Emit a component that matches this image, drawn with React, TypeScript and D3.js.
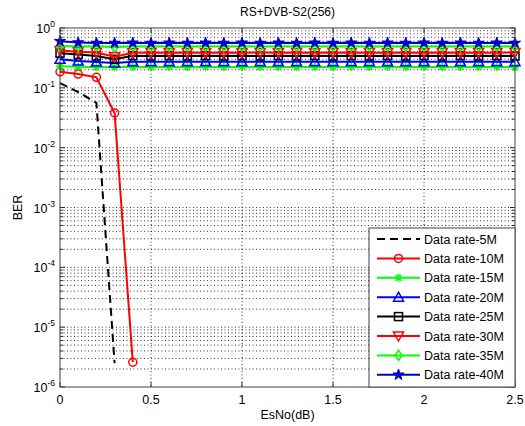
import * as d3 from "d3";

const W = 525;
const H = 426;
const M = { left: 60, right: 515, top: 28, bottom: 387 };

// EsNo sample points (dB)
const esno = [0, 0.1, 0.2, 0.3, 0.4, 0.5, 0.6, 0.7, 0.8, 0.9, 1.0, 1.1, 1.2, 1.3, 1.4, 1.5, 1.6, 1.7, 1.8, 1.9, 2.0, 2.1, 2.2, 2.3, 2.4, 2.5];

const ber5 = [0.12, 0.085, 0.056, 2.5e-6];
const ber10 = [0.185, 0.17, 0.15, 0.038, 2.6e-6];
const ber15 = [0.23, 0.225, 0.22, 0.222, 0.223, 0.222, 0.223, 0.222, 0.223, 0.222, 0.223, 0.222, 0.223, 0.222, 0.223, 0.222, 0.223, 0.222, 0.223, 0.222, 0.223, 0.222, 0.223, 0.222, 0.223, 0.222];
const ber20 = [0.3, 0.28, 0.27, 0.26, 0.272, 0.273, 0.272, 0.273, 0.272, 0.273, 0.272, 0.273, 0.272, 0.273, 0.272, 0.273, 0.272, 0.273, 0.272, 0.273, 0.272, 0.273, 0.272, 0.273, 0.272, 0.273];
const ber25 = [0.38, 0.36, 0.34, 0.3, 0.345, 0.34, 0.345, 0.34, 0.345, 0.34, 0.345, 0.34, 0.345, 0.34, 0.345, 0.34, 0.345, 0.34, 0.345, 0.34, 0.345, 0.34, 0.345, 0.34, 0.345, 0.34];
const ber30 = [0.42, 0.4, 0.39, 0.33, 0.385, 0.39, 0.385, 0.39, 0.385, 0.39, 0.385, 0.39, 0.385, 0.39, 0.385, 0.39, 0.385, 0.39, 0.385, 0.39, 0.385, 0.39, 0.385, 0.39, 0.385, 0.39];
const ber35 = [0.5, 0.49, 0.49, 0.48, 0.49, 0.49, 0.49, 0.49, 0.49, 0.49, 0.49, 0.49, 0.49, 0.49, 0.49, 0.49, 0.49, 0.49, 0.49, 0.49, 0.49, 0.49, 0.49, 0.49, 0.49, 0.49];
const ber40 = [0.6, 0.57, 0.56, 0.56, 0.565, 0.56, 0.565, 0.56, 0.565, 0.56, 0.565, 0.56, 0.565, 0.56, 0.565, 0.56, 0.565, 0.56, 0.565, 0.56, 0.565, 0.56, 0.565, 0.56, 0.565, 0.56];

const xTicks = [0, 0.5, 1, 1.5, 2, 2.5];
const xTickLabels = ["0", "0.5", "1", "1.5", "2", "2.5"];
const yExponents = [0, -1, -2, -3, -4, -5, -6];

type Marker = "none" | "o" | "*" | "^" | "s" | "v" | "d" | "p";

const series: { name: string; ys: number[]; color: string; marker: Marker; dash?: string }[] = [
  { name: "Data rate-5M", ys: ber5, color: "#000000", marker: "none", dash: "8,5" },
  { name: "Data rate-10M", ys: ber10, color: "#ff0000", marker: "o" },
  { name: "Data rate-15M", ys: ber15, color: "#00ff00", marker: "*" },
  { name: "Data rate-20M", ys: ber20, color: "#0000ff", marker: "^" },
  { name: "Data rate-25M", ys: ber25, color: "#000000", marker: "s" },
  { name: "Data rate-30M", ys: ber30, color: "#ff0000", marker: "v" },
  { name: "Data rate-35M", ys: ber35, color: "#00ff00", marker: "d" },
  { name: "Data rate-40M", ys: ber40, color: "#0000cc", marker: "p" },
];

const x = d3.scaleLinear().domain([0, 2.5]).range([M.left, M.right]);
const y = d3.scaleLog().domain([1e-6, 1]).range([M.bottom, M.top]);

function MarkerShape({ m, cx, cy, color }: { m: Marker; cx: number; cy: number; color: string }) {
  const sw = 1.5;
  if (m === "o") return <circle cx={cx} cy={cy} r={4} fill="none" stroke={color} strokeWidth={sw} />;
  if (m === "s") return <rect x={cx - 4} y={cy - 4} width={8} height={8} fill="none" stroke={color} strokeWidth={sw} />;
  if (m === "^")
    return <path d={`M${cx},${cy - 5}L${cx + 5},${cy + 4}L${cx - 5},${cy + 4}Z`} fill="none" stroke={color} strokeWidth={sw} />;
  if (m === "v")
    return <path d={`M${cx},${cy + 5}L${cx + 5},${cy - 4}L${cx - 5},${cy - 4}Z`} fill="none" stroke={color} strokeWidth={sw} />;
  if (m === "d")
    return <path d={`M${cx},${cy - 5}L${cx + 3.5},${cy}L${cx},${cy + 5}L${cx - 3.5},${cy}Z`} fill="none" stroke={color} strokeWidth={sw} />;
  if (m === "*")
    return (
      <path
        d={`M${cx - 4},${cy}L${cx + 4},${cy}M${cx},${cy - 4}L${cx},${cy + 4}M${cx - 3},${cy - 3}L${cx + 3},${cy + 3}M${cx - 3},${cy + 3}L${cx + 3},${cy - 3}`}
        stroke={color}
        strokeWidth={sw}
      />
    );
  if (m === "p") {
    const star = d3.symbol(d3.symbolStar, 38)();
    return <path d={star ?? ""} transform={`translate(${cx},${cy})`} fill={color} stroke={color} strokeWidth={1} />;
  }
  return null;
}

export default function App() {
  const line = d3
    .line<[number, number]>()
    .x((d) => x(d[0]))
    .y((d) => y(d[1]));

  const minorY: number[] = [];
  yExponents.slice(1).forEach((e) => {
    for (let k = 2; k <= 9; k++) minorY.push(k * Math.pow(10, e));
  });

  const font = "Arial, 'Liberation Sans', sans-serif";
  const legend = { x0: 369, y0: 228, x1: M.right, y1: M.bottom, row: 19.4, first: 239 };

  return (
    <svg width={W} height={H} style={{ position: "absolute", left: 0, top: 0, background: "#fff" }} fontFamily={font}>
      <rect x={0} y={0} width={W} height={H} fill="#fff" />
      {/* grid */}
      <g stroke="#000" strokeWidth={0.8} strokeDasharray="1,2.5">
        {xTicks.slice(1, -1).map((t) => (
          <line key={t} x1={x(t)} x2={x(t)} y1={M.top} y2={M.bottom} />
        ))}
        {yExponents.slice(1, -1).map((e) => (
          <line key={e} x1={M.left} x2={M.right} y1={y(Math.pow(10, e))} y2={y(Math.pow(10, e))} />
        ))}
        {minorY.map((v, i) => (
          <line key={i} x1={M.left} x2={M.right} y1={y(v)} y2={y(v)} />
        ))}
      </g>
      {/* ticks */}
      <g stroke="#000" strokeWidth={0.8}>
        {xTicks.map((t) => (
          <g key={t}>
            <line x1={x(t)} x2={x(t)} y1={M.bottom} y2={M.bottom - 5} />
            <line x1={x(t)} x2={x(t)} y1={M.top} y2={M.top + 5} />
          </g>
        ))}
        {yExponents.map((e) => (
          <g key={e}>
            <line x1={M.left} x2={M.left + 5} y1={y(Math.pow(10, e))} y2={y(Math.pow(10, e))} />
            <line x1={M.right} x2={M.right - 5} y1={y(Math.pow(10, e))} y2={y(Math.pow(10, e))} />
          </g>
        ))}
        {minorY.map((v, i) => (
          <g key={i}>
            <line x1={M.left} x2={M.left + 3} y1={y(v)} y2={y(v)} />
            <line x1={M.right} x2={M.right - 3} y1={y(v)} y2={y(v)} />
          </g>
        ))}
      </g>
      {/* series */}
      <g>
        {series.map((s) => {
          const pts = s.ys.map((v, i) => [esno[i], v] as [number, number]);
          return (
            <g key={s.name}>
              <path d={line(pts) ?? ""} fill="none" stroke={s.color} strokeWidth={2} strokeDasharray={s.dash} />
              {pts.map((p, i) => (
                <MarkerShape key={i} m={s.marker} cx={x(p[0])} cy={y(p[1])} color={s.color} />
              ))}
            </g>
          );
        })}
      </g>
      {/* frame */}
      <rect x={M.left} y={M.top} width={M.right - M.left} height={M.bottom - M.top} fill="none" stroke="#404040" strokeWidth={1} />
      {/* legend */}
      <g>
        <rect x={legend.x0} y={legend.y0} width={legend.x1 - legend.x0} height={legend.y1 - legend.y0} fill="#fff" stroke="#404040" strokeWidth={1} />
        {series.map((s, i) => {
          const cy = legend.first + i * legend.row;
          return (
            <g key={s.name}>
              <line x1={377} x2={420} y1={cy} y2={cy} stroke={s.color} strokeWidth={2} strokeDasharray={s.dash} />
              <MarkerShape m={s.marker} cx={398.5} cy={cy} color={s.color} />
              <text x={424} y={cy} dy="0.36em" fontSize={12.5} fill="#000">
                {s.name}
              </text>
            </g>
          );
        })}
      </g>
      {/* axis labels */}
      <g fontSize={12.5} fill="#000">
        {xTicks.map((t, i) => (
          <text key={t} x={x(t)} y={404} textAnchor="middle">
            {xTickLabels[i]}
          </text>
        ))}
        {yExponents.map((e) => (
          <text key={e} x={55} y={y(Math.pow(10, e)) + 5} textAnchor="end">
            10
            <tspan dy={-6} fontSize={8.5}>
              {e}
            </tspan>
          </text>
        ))}
        <text x={(M.left + M.right) / 2} y={419} textAnchor="middle">
          EsNo(dB)
        </text>
        <text transform={`translate(22,${(M.top + M.bottom) / 2}) rotate(-90)`} textAnchor="middle">
          BER
        </text>
        <text x={(M.left + M.right) / 2} y={16} textAnchor="middle" fontSize={12}>
          RS+DVB-S2(256)
        </text>
      </g>
    </svg>
  );
}
